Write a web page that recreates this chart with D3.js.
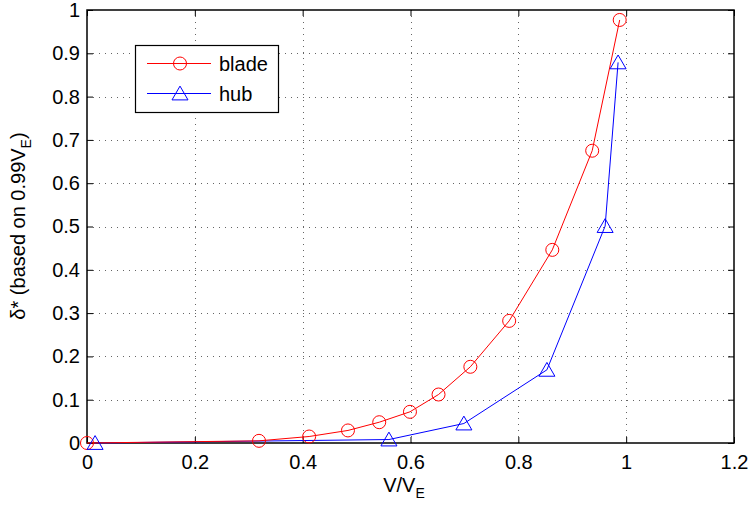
<!DOCTYPE html>
<html>
<head>
<script src="https://d3js.org/d3.v7.min.js"></script>
<style>
  body { margin: 0; background: #fff; }
  text { font-family: "Liberation Sans", Arial, sans-serif; }
</style>
</head>
<body>
<div id="chart"></div>
<script>
// blade: V/VE vs delta*
var bladeX = [0, 0.319, 0.412, 0.484, 0.542, 0.599, 0.652, 0.711, 0.783, 0.863, 0.937, 0.988];
var bladeY = [0, 0.005, 0.015, 0.029, 0.048, 0.072, 0.112, 0.176, 0.282, 0.446, 0.675, 0.977];
// hub
var hubX = [0.015, 0.56, 0.699, 0.853, 0.961, 0.985];
var hubY = [0, 0.008, 0.045, 0.169, 0.501, 0.879];

var xTicks = [0, 0.2, 0.4, 0.6, 0.8, 1, 1.2];
var yTicks = [0, 0.1, 0.2, 0.3, 0.4, 0.5, 0.6, 0.7, 0.8, 0.9, 1];

var width = 751, height = 508;
var mLeft = 87, mRight = 734, mTop = 10, mBottom = 443;
var fs = 20;

var svg = d3.select("#chart").append("svg")
  .attr("width", width)
  .attr("height", height);

var x = d3.scaleLinear().domain([0, 1.2]).range([mLeft, mRight]);
var y = d3.scaleLinear().domain([0, 1]).range([mBottom, mTop]);

// grid
var grid = svg.append("g")
  .attr("stroke", "#000")
  .attr("stroke-width", 1)
  .attr("stroke-dasharray", "1,5")
  .attr("opacity", 0.6);

grid.selectAll("line.gx")
  .data(xTicks.slice(1, -1))
  .enter().append("line")
  .attr("x1", function(d) { return Math.round(x(d)) + 0.5; })
  .attr("x2", function(d) { return Math.round(x(d)) + 0.5; })
  .attr("y1", mBottom)
  .attr("y2", mTop);

grid.selectAll("line.gy")
  .data(yTicks.slice(1, -1))
  .enter().append("line")
  .attr("y1", function(d) { return Math.round(y(d)) + 0.5; })
  .attr("y2", function(d) { return Math.round(y(d)) + 0.5; })
  .attr("x1", mLeft)
  .attr("x2", mRight);

// axes (ticks inward, box all round)
var tl = 6;
svg.append("g")
  .attr("transform", "translate(0," + mBottom + ")")
  .call(d3.axisBottom(x).tickValues(xTicks).tickSize(-tl).tickPadding(12).tickFormat(d3.format("")))
  .call(function(g) { g.select(".domain").remove(); });

svg.append("g")
  .attr("transform", "translate(0," + mTop + ")")
  .call(d3.axisTop(x).tickValues(xTicks).tickSize(-tl).tickFormat(""))
  .call(function(g) { g.select(".domain").remove(); });

svg.append("g")
  .attr("transform", "translate(" + mLeft + ",0)")
  .call(d3.axisLeft(y).tickValues(yTicks).tickSize(-tl).tickPadding(7).tickFormat(d3.format("")))
  .call(function(g) { g.select(".domain").remove(); });

svg.append("g")
  .attr("transform", "translate(" + mRight + ",0)")
  .call(d3.axisRight(y).tickValues(yTicks).tickSize(-tl).tickFormat(""))
  .call(function(g) { g.select(".domain").remove(); });

svg.selectAll(".tick text")
  .attr("font-size", fs)
  .attr("font-family", "Liberation Sans, Arial, sans-serif")
  .attr("fill", "#000");
svg.selectAll(".tick line").attr("stroke", "#000");

svg.append("rect")
  .attr("x", mLeft).attr("y", mTop)
  .attr("width", mRight - mLeft).attr("height", mBottom - mTop)
  .attr("fill", "none").attr("stroke", "#000").attr("stroke-width", 1.5);

// series
var line = d3.line()
  .x(function(d) { return x(d[0]); })
  .y(function(d) { return y(d[1]); });

var blade = d3.zip(bladeX, bladeY);
var hub = d3.zip(hubX, hubY);

var triangle = function(cx, cy, s) {
  var h = s * 0.8;
  return "M" + cx + "," + (cy - h / 2 - 1) + "L" + (cx + s / 2) + "," + (cy + h / 2) + "L" + (cx - s / 2) + "," + (cy + h / 2) + "Z";
};

svg.append("path").datum(hub)
  .attr("d", line).attr("fill", "none").attr("stroke", "#0000ff").attr("stroke-width", 1);
svg.append("path").datum(blade)
  .attr("d", line).attr("fill", "none").attr("stroke", "#ff0000").attr("stroke-width", 1);

svg.selectAll("circle.blade")
  .data(blade).enter().append("circle")
  .attr("cx", function(d) { return x(d[0]); })
  .attr("cy", function(d) { return y(d[1]); })
  .attr("r", 6.5)
  .attr("fill", "none").attr("stroke", "#ff0000").attr("stroke-width", 1);

svg.selectAll("path.hubm")
  .data(hub).enter().append("path")
  .attr("d", function(d) { return triangle(x(d[0]), y(d[1]), 16); })
  .attr("fill", "none").attr("stroke", "#0000ff").attr("stroke-width", 1);

// legend
var lg = svg.append("g");
lg.append("rect")
  .attr("x", 135.5).attr("y", 45.5).attr("width", 143).attr("height", 67)
  .attr("fill", "#fff").attr("stroke", "#000").attr("stroke-width", 1.2);
lg.append("line").attr("x1", 147).attr("x2", 211).attr("y1", 63.5).attr("y2", 63.5)
  .attr("stroke", "#ff0000");
lg.append("circle").attr("cx", 180).attr("cy", 63.5).attr("r", 6.5)
  .attr("fill", "none").attr("stroke", "#ff0000");
lg.append("line").attr("x1", 147).attr("x2", 211).attr("y1", 93.5).attr("y2", 93.5)
  .attr("stroke", "#0000ff");
lg.append("path").attr("d", triangle(180, 93.5, 16))
  .attr("fill", "none").attr("stroke", "#0000ff");
lg.append("text").attr("x", 219).attr("y", 70.5).attr("font-size", fs).text("blade");
lg.append("text").attr("x", 219).attr("y", 100.5).attr("font-size", fs).text("hub");

// axis labels
var xl = svg.append("text")
  .attr("x", 404).attr("y", 492)
  .attr("text-anchor", "middle")
  .attr("font-size", fs);
xl.append("tspan").text("V/V");
xl.append("tspan").attr("dy", 6).attr("font-size", 14).text("E");

var yl = svg.append("text")
  .attr("transform", "translate(25," + 226 + ") rotate(-90)")
  .attr("text-anchor", "middle")
  .attr("font-size", fs);
yl.append("tspan").text("\u03b4* (based on 0.99V");
yl.append("tspan").attr("dy", 6).attr("font-size", 14).text("E");
yl.append("tspan").attr("dy", -6).text(")");
</script>
</body>
</html>
